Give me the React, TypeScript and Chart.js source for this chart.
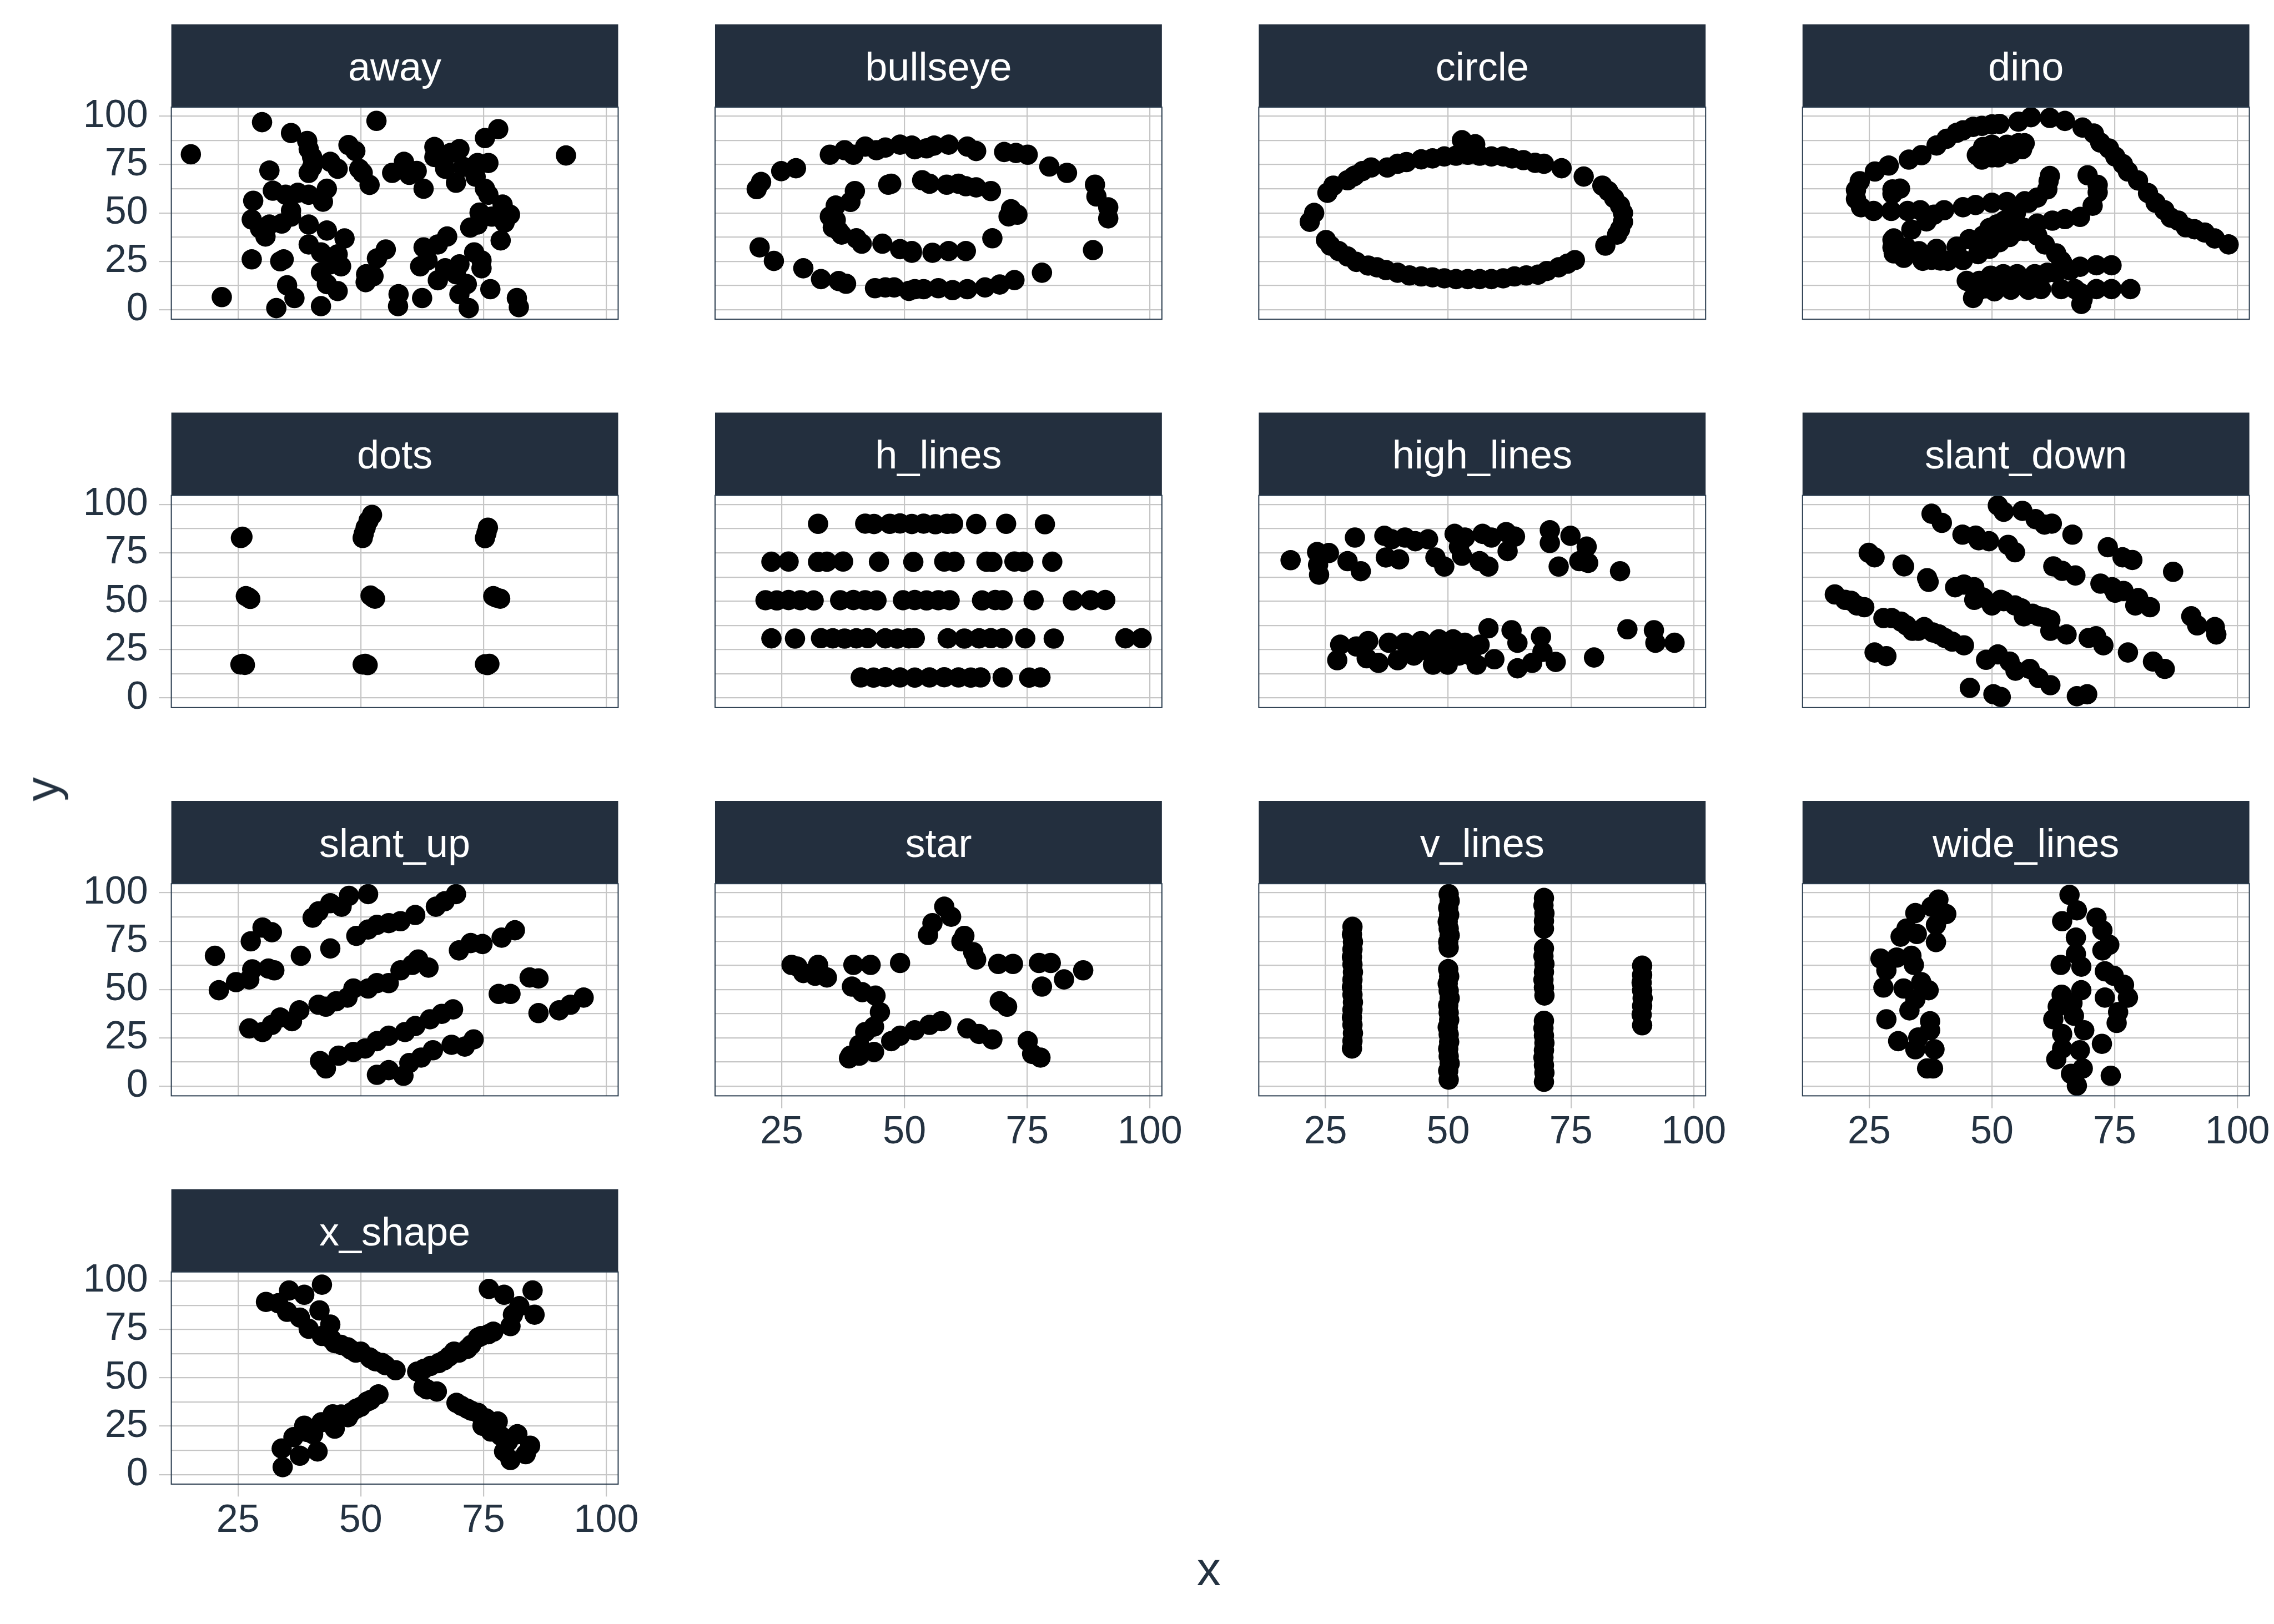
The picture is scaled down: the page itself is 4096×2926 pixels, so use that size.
import React, { useEffect, useRef } from 'react';
import { Chart, registerables } from 'chart.js';

Chart.register(...registerables);

// ---------------- data ----------------
const PANEL_NAMES = ['away', 'bullseye', 'circle', 'dino', 'dots', 'h_lines', 'high_lines', 'slant_down', 'slant_up', 'star', 'v_lines', 'wide_lines', 'x_shape'];
const X_TICKS = [25, 50, 75, 100];
const Y_GRID = [0, 12.5, 25, 37.5, 50, 62.5, 75, 87.5, 100];
const Y_LABELS = [0, 25, 50, 75, 100];
const X_LIMITS = [11.42, 102.43];
const Y_LIMITS = [-4.97, 104.68];
const X_TITLE = 'x';
const Y_TITLE = 'y';

const away = [[15.4,80.3],[29.9,96.9],[53.2,97.6],[91.8,79.7],[78.0,93.3],[75.3,88.7],[21.7,6.5],[35.8,91.3],[39.1,87.2],[39.4,83.0],[40.1,78.9],[47.5,85.1],[48.9,82.0],[43.8,76.4],[31.4,71.9],[40.1,73.8],[39.4,70.7],[45.3,72.8],[49.7,72.8],[50.4,70.7],[51.8,64.5],[32.1,61.5],[34.7,59.4],[37.2,60.4],[39.4,59.4],[43.1,62.5],[42.3,55.8],[28.1,56.3],[35.8,51.2],[27.8,46.6],[29.5,41.9],[30.6,37.8],[31.4,44.0],[33.9,44.5],[35.8,48.1],[39.4,44.0],[43.1,40.9],[39.4,33.7],[41.9,29.6],[46.7,36.8],[45.3,28.6],[43.8,23.4],[46.0,22.4],[41.9,19.3],[27.8,26.0],[33.6,25.0],[34.3,26.0],[35.0,12.6],[36.5,6.0],[32.8,0.8],[41.9,1.8],[43.1,13.2],[45.3,9.6],[51.0,14.2],[52.6,17.3],[53.3,26.5],[55.1,31.1],[56.4,70.7],[58.8,76.4],[59.9,69.7],[61.4,71.7],[62.8,62.5],[65.0,84.1],[65.0,78.9],[67.2,72.8],[68.3,81.0],[70.1,83.0],[69.4,65.6],[70.9,73.8],[73.8,75.8],[76.0,75.8],[73.4,68.7],[75.3,62.5],[76.0,59.4],[74.2,50.2],[76.7,48.1],[78.9,54.3],[80.4,49.1],[79.3,45.0],[72.3,42.4],[73.8,44.0],[78.5,35.8],[67.6,37.8],[62.8,32.2],[65.7,33.7],[62.1,22.4],[63.6,25.5],[65.7,15.2],[67.2,21.4],[69.4,18.3],[70.1,23.4],[73.1,29.6],[74.6,25.5],[74.6,21.4],[71.6,13.2],[70.1,8.0],[72.0,0.8],[76.4,10.6],[81.8,6.0],[82.2,1.3],[57.7,8.0],[57.6,1.8],[62.5,6.0],[51.1,18.3]];

const bullseye = [[34.8,80.1],[37.8,82.4],[39.6,80.1],[42.0,84.3],[44.3,82.4],[46.1,83.8],[49.1,85.3],[51.5,84.8],[52.1,82.9],[54.5,83.4],[56.0,84.8],[59.0,85.3],[62.8,84.3],[64.6,82.0],[70.3,81.5],[72.7,81.0],[75.1,80.1],[79.5,74.0],[83.1,70.7],[88.8,64.6],[89.1,58.5],[91.5,52.9],[91.5,47.2],[88.4,30.8],[78.0,19.1],[72.4,15.3],[69.4,13.0],[66.4,11.5],[62.8,10.6],[59.8,10.1],[56.9,11.1],[53.9,10.6],[50.9,9.7],[47.9,11.5],[44.0,11.1],[38.1,13.4],[36.6,14.8],[33.0,15.8],[29.4,21.4],[23.4,25.2],[20.5,32.2],[19.9,62.3],[20.8,66.0],[24.9,71.6],[27.9,73.1],[46.1,11.5],[52.1,10.6],[39.9,61.3],[36.0,53.8],[39.0,55.7],[34.8,48.2],[35.4,42.5],[36.6,40.7],[40.2,36.9],[41.3,34.1],[45.5,34.1],[49.1,31.3],[51.5,29.4],[55.7,29.4],[59.0,30.3],[62.5,30.3],[67.9,36.9],[71.2,48.2],[71.7,51.9],[73.0,49.1],[67.6,61.3],[64.6,63.2],[61.0,65.1],[58.6,64.6],[62.5,63.8],[55.1,65.1],[53.6,66.9],[47.3,65.1],[46.7,64.6],[36.0,46.3],[37.2,38.8],[51.5,30.3]];

const circle = [[31.0,69.3],[32.5,71.6],[34.3,73.5],[37.6,73.5],[39.7,75.4],[41.5,76.3],[44.5,77.7],[46.8,78.2],[49.2,79.2],[51.6,79.6],[54.0,80.1],[56.4,79.6],[58.8,79.2],[61.2,79.2],[63.0,78.2],[65.3,77.3],[67.7,75.9],[69.5,75.4],[73.1,73.1],[52.8,87.6],[55.5,85.5],[53.4,84.3],[77.6,68.8],[81.4,64.1],[82.6,61.3],[83.8,57.6],[85.0,53.8],[85.6,50.0],[85.6,45.4],[85.0,41.6],[84.4,38.8],[82.0,33.1],[75.8,25.6],[74.3,23.8],[72.5,21.9],[70.1,20.0],[68.3,18.1],[65.9,17.7],[63.5,17.2],[61.2,16.2],[58.8,15.8],[56.4,15.8],[54.0,15.8],[51.6,15.8],[49.2,16.2],[46.8,16.7],[44.5,17.2],[42.1,17.7],[39.7,19.1],[37.3,20.5],[35.5,21.9],[33.7,22.8],[31.3,24.7],[29.5,27.5],[27.7,30.3],[26.0,33.1],[25.1,36.0],[21.8,45.4],[22.7,50.0],[25.4,60.4],[26.6,64.1],[30.7,68.8],[29.5,66.9]];

const dino = [[55.3846,97.1795],[51.5385,96.0256],[46.1538,94.4872],[42.8205,91.4103],[40.7692,88.3333],[38.7179,84.8718],[35.641,79.8718],[33.0769,77.5641],[28.9744,74.4872],[26.1538,71.4103],[23.0769,66.4103],[22.3077,61.7949],[22.3077,57.1795],[23.3333,52.9487],[25.8974,51.0256],[29.4872,51.0256],[32.8205,51.0256],[35.3846,51.4103],[40.2564,51.4103],[44.1026,52.9487],[46.6667,54.1026],[50.0,55.2564],[53.0769,55.641],[56.6667,56.0256],[59.2308,57.9487],[61.2821,62.1795],[61.5385,66.4103],[61.7949,69.1026],[57.4359,55.2564],[54.8718,49.8718],[52.5641,46.0256],[48.2051,38.3333],[49.4872,42.1795],[51.0256,44.1026],[45.3846,36.4103],[42.8205,32.5641],[38.7179,31.4103],[35.1282,30.2564],[32.5641,32.1795],[30.0,36.7949],[33.5897,41.4103],[36.6667,45.641],[38.2051,49.1026],[29.7436,36.0256],[29.7436,32.1795],[30.0,29.1026],[32.0513,26.7949],[35.8974,25.2564],[41.0256,25.2564],[44.1026,25.641],[47.1795,28.718],[49.4872,31.4103],[51.5385,34.8718],[53.5897,37.5641],[55.1282,40.641],[56.6667,42.1795],[59.2308,44.4872],[62.3077,46.0256],[64.8718,46.7949],[67.9487,47.9487],[70.5128,53.718],[71.5385,60.641],[71.5385,64.4872],[69.4872,69.4872],[46.9231,79.8718],[48.2051,84.1026],[50.0,85.2564],[53.0769,85.2564],[55.3846,86.0256],[56.6667,86.0256],[56.1538,82.9487],[53.8462,80.641],[51.2821,78.718],[50.0,78.718],[47.9487,77.5641],[29.7436,59.8718],[29.7436,62.1795],[31.2821,62.5641],[57.9487,99.4872],[61.7949,99.1026],[64.8718,97.5641],[68.4615,94.1026],[70.7692,91.0256],[72.0513,86.4103],[73.8462,83.3333],[75.1282,79.1026],[76.6667,75.2564],[77.6923,71.4103],[79.7436,66.7949],[81.7949,60.2564],[83.3333,55.2564],[85.1282,51.4103],[86.4103,47.5641],[87.9487,46.0256],[89.4872,42.5641],[93.3333,39.8718],[95.3846,36.7949],[98.2051,33.718],[56.6667,40.641],[59.2308,38.3333],[60.7692,33.718],[63.0769,29.1026],[64.1026,25.2564],[64.359,24.1026],[74.359,22.9487],[71.2821,22.9487],[67.9487,22.1795],[65.8974,20.2564],[63.0769,19.1026],[61.2821,19.1026],[58.7179,18.3333],[55.1282,18.3333],[52.3077,18.3333],[49.7436,17.5641],[47.4359,14.8718],[44.8718,14.8718],[48.7179,14.8718],[51.2821,14.8718],[54.1026,14.8718],[56.1538,14.1026],[52.0513,12.5641],[48.7179,11.0256],[47.1795,9.8718],[46.1538,6.0256],[50.5128,9.4872],[53.8462,10.2564],[57.4359,10.2564],[60.0,10.641],[64.1026,10.641],[66.9231,10.641],[71.2821,10.641],[74.359,10.641],[78.2051,10.641],[67.9487,8.718],[68.4615,5.2564],[68.2051,2.9487],[37.6923,25.7692],[39.4872,25.3846],[91.2821,41.5385],[50.0,95.7692],[47.9487,95.0],[44.1026,92.6923]];

const dots = [[25.6,82.7],[25.9,83.3],[26.6,52.6],[27.1,52.0],[27.5,51.2],[25.5,17.3],[25.9,17.6],[26.4,17.1],[50.4,82.7],[50.6,84.8],[51.0,88.0],[51.6,91.7],[52.3,94.6],[52.0,52.9],[52.5,51.9],[52.9,51.3],[50.4,17.3],[50.9,17.6],[51.4,17.0],[75.3,82.6],[75.6,85.1],[75.9,88.0],[77.0,52.6],[77.6,51.9],[78.4,51.3],[75.3,17.4],[75.8,17.0],[76.2,17.6]];

const h_lines = [[32.4,90.0],[42.0,90.1],[43.8,89.9],[47.0,90.0],[49.1,90.2],[51.5,89.9],[53.9,90.1],[56.3,89.8],[58.7,90.0],[59.9,90.1],[64.6,89.9],[70.7,90.0],[78.6,89.8],[22.9,70.4],[26.4,70.5],[32.4,70.3],[34.2,70.4],[37.5,70.5],[44.8,70.4],[51.8,70.3],[58.1,70.5],[60.2,70.4],[66.7,70.4],[67.9,70.3],[72.4,70.5],[74.2,70.4],[80.1,70.4],[21.7,50.5],[24.0,50.4],[26.4,50.6],[28.8,50.5],[31.5,50.4],[36.9,50.5],[39.6,50.6],[42.0,50.5],[44.3,50.4],[49.7,50.5],[52.1,50.6],[54.5,50.4],[56.9,50.5],[59.2,50.5],[65.8,50.4],[68.5,50.6],[70.0,50.5],[76.3,50.5],[84.3,50.4],[87.9,50.5],[90.9,50.6],[22.9,30.8],[27.7,30.7],[33.0,30.9],[35.4,30.8],[37.8,30.7],[40.2,30.8],[42.5,30.9],[46.1,30.8],[48.5,30.7],[50.9,30.8],[52.1,30.9],[58.8,30.8],[62.2,30.7],[65.2,30.8],[67.6,30.9],[70.0,30.8],[74.6,30.8],[80.4,30.7],[95.0,30.8],[98.3,30.9],[41.1,10.6],[43.7,10.5],[46.1,10.7],[49.1,10.6],[52.1,10.5],[55.1,10.6],[58.1,10.7],[61.0,10.6],[63.5,10.5],[65.5,10.6],[70.0,10.6],[75.4,10.5],[77.7,10.6]];

const high_lines = [[17.9,71.2],[23.3,75.4],[25.7,74.9],[23.5,68.8],[23.7,63.7],[29.5,70.7],[31.0,82.9],[32.2,65.5],[37.0,83.8],[38.5,82.0],[37.3,72.6],[40.0,71.6],[41.2,82.9],[43.3,81.0],[45.9,82.0],[47.4,72.6],[49.2,67.9],[51.3,84.8],[52.2,78.2],[53.4,82.9],[52.8,73.5],[57.0,84.8],[56.4,70.7],[58.2,67.9],[58.8,82.9],[61.8,85.7],[63.6,83.4],[62.1,75.9],[70.7,86.7],[70.7,80.1],[72.5,67.9],[74.9,83.8],[78.2,78.2],[76.7,70.7],[78.5,69.8],[85.0,65.5],[27.4,19.5],[28.0,27.5],[31.3,26.6],[33.7,29.4],[33.4,20.5],[35.8,18.1],[37.9,28.5],[39.7,19.5],[41.2,28.5],[43.0,21.9],[44.5,29.4],[46.9,17.2],[48.1,30.3],[49.9,17.2],[51.0,30.3],[52.2,21.9],[53.4,28.5],[55.8,17.2],[56.4,27.5],[58.2,36.0],[59.4,20.0],[62.9,35.0],[64.1,28.5],[64.1,15.3],[67.1,18.1],[68.9,31.7],[69.2,23.8],[71.9,18.6],[79.7,20.9],[86.5,35.5],[91.9,35.0],[92.2,28.5],[96.1,28.5],[46.2,23.8],[48.6,23.8],[54.6,21.9]];

const slant_down = [[37.7,95.2],[39.8,90.5],[51.2,99.5],[52.4,96.2],[56.2,96.7],[58.9,92.4],[60.7,89.6],[62.2,90.1],[66.4,84.4],[44.0,84.4],[46.7,83.9],[47.3,81.5],[49.4,81.0],[53.3,79.1],[54.7,75.3],[73.6,77.9],[76.6,72.7],[78.6,71.3],[86.9,65.2],[24.9,75.0],[26.1,72.7],[31.8,68.9],[32.1,68.0],[36.8,61.9],[37.1,60.0],[42.5,57.2],[44.3,58.6],[46.4,57.2],[46.4,50.7],[48.2,51.9],[50.0,47.8],[51.8,50.7],[52.4,50.0],[54.7,47.8],[56.0,46.3],[56.5,42.2],[58.3,43.5],[59.5,42.2],[60.7,41.6],[61.9,40.3],[61.9,34.7],[65.2,32.8],[62.5,68.0],[64.3,65.7],[67.0,63.3],[72.1,59.1],[74.5,57.2],[75.1,54.4],[76.8,55.3],[79.8,51.6],[79.2,47.8],[82.2,46.9],[18.0,53.5],[20.1,50.7],[21.3,50.2],[22.5,47.8],[24.0,46.9],[27.9,41.3],[29.6,41.3],[31.5,39.4],[32.6,37.5],[33.8,34.7],[35.0,34.7],[36.2,36.6],[38.0,33.8],[39.2,32.8],[40.4,31.0],[41.9,29.1],[44.3,27.2],[26.1,23.5],[28.5,21.6],[48.8,19.7],[51.2,22.5],[53.6,18.8],[54.8,14.1],[57.7,15.0],[59.5,10.3],[61.9,6.6],[69.7,31.0],[71.2,31.9],[72.7,27.2],[77.7,23.5],[82.8,18.8],[85.2,15.0],[90.6,42.2],[91.8,37.5],[95.4,36.6],[95.7,32.8],[45.5,5.2],[50.3,1.9],[51.8,0.5],[67.3,0.9],[69.4,1.9]];

const slant_up = [[20.3,67.4],[21.1,49.6],[24.6,53.8],[27.3,55.2],[27.9,60.4],[31.2,60.8],[32.4,59.9],[27.6,74.9],[30.0,82.0],[31.9,79.6],[37.8,67.4],[43.8,71.2],[40.2,87.1],[41.4,90.4],[43.8,94.6],[46.1,92.8],[47.6,98.4],[51.5,99.3],[49.1,77.7],[51.5,81.0],[53.3,83.4],[55.7,84.3],[58.1,85.3],[61.1,88.5],[65.3,92.8],[67.1,95.6],[69.4,99.3],[70.0,70.2],[72.4,74.0],[74.8,73.5],[78.7,76.8],[81.4,80.6],[78.1,47.7],[80.5,47.7],[84.4,56.2],[86.2,55.7],[86.2,37.8],[90.4,39.2],[92.7,42.1],[95.4,45.8],[27.3,29.9],[30.0,28.0],[31.9,31.7],[33.6,35.5],[36.0,33.6],[37.5,39.2],[41.4,42.1],[42.9,41.1],[45.0,43.9],[47.3,45.8],[48.5,50.5],[51.5,50.5],[53.3,53.3],[55.7,53.3],[58.1,59.9],[60.5,62.7],[61.7,65.5],[63.8,61.3],[41.7,13.0],[42.9,9.2],[45.5,15.8],[48.5,17.7],[50.9,19.5],[53.3,23.3],[55.7,26.1],[59.0,28.0],[61.1,31.1],[64.1,34.6],[66.5,37.4],[68.8,39.7],[53.3,5.9],[55.7,8.3],[58.7,5.4],[59.9,12.0],[62.3,14.8],[64.7,18.6],[68.5,21.4],[71.2,20.5],[73.0,24.2]];

const star = [[27.0,62.7],[28.2,61.8],[29.4,58.5],[32.4,62.7],[31.8,57.1],[34.2,56.2],[39.6,62.7],[43.1,62.7],[49.1,63.7],[39.3,51.5],[41.4,48.6],[44.1,46.8],[45.0,38.3],[43.8,30.8],[42.0,28.0],[40.8,21.4],[39.0,15.8],[38.7,14.4],[40.8,15.8],[43.8,17.7],[47.3,23.3],[49.1,26.1],[52.1,28.9],[55.1,31.7],[57.5,33.6],[54.8,78.2],[55.7,84.3],[58.1,92.8],[59.5,87.6],[62.2,77.7],[61.6,74.9],[64.0,69.3],[64.6,65.5],[69.1,63.2],[72.1,63.2],[77.4,63.7],[79.8,63.7],[82.5,55.2],[86.4,59.9],[78.0,51.5],[69.4,43.9],[70.9,41.1],[62.8,29.9],[65.2,27.0],[67.9,24.2],[75.1,23.3],[76.0,16.7],[77.7,14.8]];

const v_lines = [[30.5,82.4],[30.4,78.5],[30.6,74.6],[30.5,70.7],[30.4,66.8],[30.5,62.9],[30.6,59.0],[30.5,55.1],[30.4,51.2],[30.5,47.3],[30.6,43.4],[30.5,39.5],[30.4,35.6],[30.5,31.7],[30.6,27.4],[30.5,23.4],[30.4,19.5],[50.1,99.3],[50.3,95.8],[50.0,92.2],[50.2,88.6],[49.9,85.0],[50.1,81.5],[50.3,78.0],[50.0,74.6],[50.1,71.6],[50.0,60.5],[50.2,56.8],[49.9,53.0],[50.1,49.3],[50.3,45.5],[50.0,41.8],[50.1,38.0],[50.2,34.3],[49.9,30.5],[50.1,26.8],[50.2,23.0],[50.0,19.3],[50.1,15.5],[50.3,11.8],[50.0,8.0],[50.1,3.4],[69.5,97.3],[69.4,93.5],[69.6,89.4],[69.5,85.5],[69.5,81.5],[69.5,71.2],[69.4,67.2],[69.6,63.2],[69.5,59.1],[69.4,55.0],[69.5,51.0],[69.6,46.9],[69.5,33.8],[69.4,30.0],[69.5,26.2],[69.6,22.4],[69.5,18.6],[69.4,14.8],[69.5,10.9],[69.6,7.0],[69.5,2.3],[89.5,62.3],[89.5,57.5],[89.4,53.5],[89.5,49.5],[89.6,45.5],[89.5,41.5],[89.4,37.0],[89.5,31.5]];

const wide_lines = [[39.1,96.5],[37.7,92.8],[40.7,89.0],[34.4,89.5],[38.6,83.4],[32.6,81.5],[31.4,77.3],[38.6,74.5],[34.7,78.7],[27.3,66.0],[30.6,66.5],[33.6,67.4],[28.5,59.9],[34.1,62.7],[27.9,51.0],[32.0,50.5],[35.6,53.8],[37.1,49.6],[34.4,44.9],[33.2,39.2],[28.5,34.6],[37.4,33.6],[37.4,28.9],[30.9,23.3],[34.4,19.1],[38.3,19.1],[36.8,9.2],[38.0,9.2],[35.0,25.2],[65.8,98.9],[67.3,90.9],[64.3,85.3],[71.3,87.1],[72.5,80.6],[67.1,76.8],[73.9,73.1],[67.1,68.4],[72.5,70.2],[64.0,62.7],[68.2,61.8],[73.0,59.4],[74.8,57.1],[76.9,52.4],[77.7,45.8],[73.0,45.8],[75.7,38.3],[75.4,32.7],[64.2,47.3],[68.2,49.6],[66.4,43.0],[63.4,41.1],[62.5,34.6],[66.7,36.4],[68.8,28.9],[72.4,21.9],[64.3,27.0],[63.1,13.9],[67.9,18.6],[68.5,9.2],[67.3,0.3],[74.2,5.4],[64.3,19.5],[66.1,6.4]];

const x_shape = [[30.7,89.2],[33.2,88.5],[35.4,95.1],[38.5,92.9],[42.1,98.1],[35.0,84.1],[37.6,81.1],[41.6,84.8],[39.4,75.3],[43.8,77.5],[42.1,71.6],[44.0,70.0],[44.7,67.9],[46.0,67.0],[47.4,65.7],[48.0,64.5],[49.0,63.0],[50.0,63.5],[51.8,60.5],[52.0,60.0],[53.0,58.5],[54.4,57.6],[55.0,56.5],[57.1,53.9],[34.1,3.8],[33.9,13.4],[36.3,19.3],[37.6,9.7],[38.5,25.2],[39.0,22.0],[41.2,11.9],[40.3,20.8],[42.0,27.0],[44.7,23.7],[44.3,31.1],[45.0,30.0],[46.0,31.0],[47.4,29.6],[48.0,32.0],[49.1,34.0],[50.0,35.0],[51.3,37.7],[52.0,38.5],[53.6,41.4],[61.5,53.2],[62.8,54.5],[64.2,56.1],[65.9,57.6],[67.0,59.0],[68.0,61.0],[69.0,63.5],[70.0,63.0],[71.7,64.9],[72.5,67.0],[73.9,70.8],[74.5,71.5],[76.0,72.5],[77.0,73.8],[80.5,76.7],[81.0,82.6],[82.3,87.0],[85.4,82.6],[76.1,95.9],[79.2,92.9],[85.0,95.1],[62.8,45.1],[63.5,44.0],[65.5,42.9],[69.5,37.0],[70.5,35.5],[71.7,34.0],[72.5,33.0],[73.9,31.8],[75.5,29.0],[74.8,25.2],[76.5,22.2],[77.0,25.0],[77.9,27.4],[78.5,20.0],[80.0,17.0],[79.2,11.9],[80.5,7.5],[81.9,20.8],[83.6,10.5],[84.5,14.9]];

const PANEL_DATA: Record<string, number[][]> = {
  away, bullseye, circle, dino, dots, h_lines, high_lines, slant_down, slant_up, star, v_lines, wide_lines, x_shape,
};

// ---------------- styling / layout (reference px, scaled by S) ----------------
const S = 0.975;
const FONT = '"Liberation Sans", Arial, Helvetica, sans-serif';
const TEXT_COLOR = '#243241';
const STRIP_FILL = '#232f3e';
const BORDER_COLOR = '#2c3e50';
const GRID_COLOR = '#c6c6c6';
const COL_LEFT = [316.5, 1321, 2325.5, 3330];
const STRIP_TOP = [45, 762.5, 1480, 2197.5];
const PANEL_W = 825.5;
const STRIP_H = 153;
const PLOT_H = 392;
const TICK_FONT = 70;
const STRIP_FONT = 72;
const TITLE_FONT = 86;
const POINT_R = 18.3;

type PanelDef = { name: string; row: number; col: number; showX: boolean; showY: boolean };

function Panel({ p }: { p: PanelDef }) {
  const ref = useRef<HTMLCanvasElement | null>(null);
  const plotLeft = COL_LEFT[p.col] * S;
  const stripTop = STRIP_TOP[p.row] * S;
  const plotTop = (STRIP_TOP[p.row] + STRIP_H) * S;
  const cLeft = Math.floor(plotLeft - 316 * S);
  const cTop = Math.floor(stripTop);
  const axisW = plotLeft - cLeft;
  const padTop = plotTop - cTop;
  const pw = PANEL_W * S;
  const ph = PLOT_H * S;
  const cW = Math.ceil(axisW + pw + 80 * S);
  const cH = Math.ceil(padTop + ph + 170 * S);
  const padRight = cW - axisW - pw;
  const axisH = cH - padTop - ph;
  const stripH = STRIP_H * S;

  useEffect(() => {
    const canvas = ref.current;
    if (!canvas) return;
    const pts = PANEL_DATA[p.name].map(([x, y]) => ({ x, y }));
    const deco = {
      id: 'deco',
      beforeDraw(chart: any) {
        const { ctx, chartArea } = chart;
        ctx.save();
        ctx.fillStyle = STRIP_FILL;
        ctx.fillRect(chartArea.left, chartArea.top - stripH, chartArea.right - chartArea.left, stripH);
        ctx.fillStyle = '#ffffff';
        ctx.font = `${STRIP_FONT}px ${FONT}`;
        ctx.textAlign = 'center';
        ctx.textBaseline = 'alphabetic';
        ctx.fillText(p.name, (chartArea.left + chartArea.right) / 2, chartArea.top - stripH + 103.6 * S);
        ctx.restore();
      },
      afterDraw(chart: any) {
        const { ctx, chartArea } = chart;
        ctx.save();
        ctx.strokeStyle = BORDER_COLOR;
        ctx.lineWidth = 2;
        ctx.strokeRect(chartArea.left, chartArea.top, chartArea.right - chartArea.left, chartArea.bottom - chartArea.top);
        ctx.restore();
      },
    };
    const chart = new Chart(canvas, {
      type: 'scatter',
      data: {
        datasets: [
          {
            data: pts,
            pointRadius: POINT_R,
            pointHoverRadius: POINT_R,
            pointBackgroundColor: '#000000',
            pointBorderColor: '#000000',
            pointBorderWidth: 0,
            showLine: false,
            clip: 0,
          } as any,
        ],
      },
      options: {
        animation: false,
        responsive: false,
        maintainAspectRatio: false,
        devicePixelRatio: 1,
        events: [],
        layout: { padding: { left: 0, top: padTop, right: padRight, bottom: 0 } },
        plugins: { legend: { display: false }, tooltip: { enabled: false }, title: { display: false } },
        scales: {
          x: {
            type: 'linear',
            min: X_LIMITS[0],
            max: X_LIMITS[1],
            afterBuildTicks: (s: any) => {
              s.ticks = X_TICKS.map((v) => ({ value: v }));
            },
            afterFit: (s: any) => {
              s.height = axisH;
            },
            border: { display: false },
            grid: {
              color: GRID_COLOR,
              lineWidth: 2.2,
              drawTicks: p.showX,
              tickLength: 23 * S,
              tickColor: GRID_COLOR,
              tickWidth: 2.2,
            },
            ticks: {
              display: p.showX,
              autoSkip: false,
              maxRotation: 0,
              padding: 2.4,
              color: TEXT_COLOR,
              font: { family: FONT, size: TICK_FONT },
              callback: (v: any) => String(v),
            },
          },
          y: {
            type: 'linear',
            min: Y_LIMITS[0],
            max: Y_LIMITS[1],
            afterBuildTicks: (s: any) => {
              s.ticks = Y_GRID.map((v) => ({ value: v }));
            },
            afterFit: (s: any) => {
              s.width = axisW;
            },
            border: { display: false },
            grid: {
              color: GRID_COLOR,
              lineWidth: 2.2,
              drawTicks: p.showY,
              tickLength: 23 * S,
              tickColor: (ctx: any) => (ctx.tick && Y_LABELS.includes(ctx.tick.value) ? GRID_COLOR : 'rgba(0,0,0,0)'),
              tickWidth: 2.2,
            },
            ticks: {
              display: p.showY,
              autoSkip: false,
              padding: 19.5,
              color: TEXT_COLOR,
              font: { family: FONT, size: TICK_FONT },
              callback: (v: any) => (Y_LABELS.includes(Number(v)) ? String(v) : ''),
            },
          },
        },
      } as any,
      plugins: [deco as any],
    });
    return () => chart.destroy();
  }, []);

  return (
    <canvas
      ref={ref}
      width={cW}
      height={cH}
      style={{ position: 'absolute', left: cLeft, top: cTop, width: cW, height: cH }}
    />
  );
}

export default function App() {
  const panels: PanelDef[] = PANEL_NAMES.map((name, i) => {
    const row = Math.floor(i / 4);
    const col = i % 4;
    const showX = row === 3 || (row === 2 && col > 0);
    return { name, row, col, showX, showY: col === 0 };
  });
  return (
    <div
      style={{
        position: 'absolute',
        left: 0,
        top: 0,
        width: 4096,
        height: 2926,
        background: '#ffffff',
        overflow: 'hidden',
      }}
    >
      {panels.map((p) => (
        <Panel key={p.name} p={p} />
      ))}
      <div
        style={{
          position: 'absolute',
          left: 2233 * S,
          top: 2906 * S - 0.587 * TITLE_FONT,
          transform: 'translateX(-50%)',
          fontFamily: FONT,
          fontSize: TITLE_FONT,
          lineHeight: 1,
          color: TEXT_COLOR,
          whiteSpace: 'nowrap',
        }}
      >
        {X_TITLE}
      </div>
      <div
        style={{
          position: 'absolute',
          left: 94 * S - 0.19 * TITLE_FONT,
          top: 1458 * S,
          transform: 'translate(-50%, -50%) rotate(-90deg)',
          fontFamily: FONT,
          fontSize: TITLE_FONT,
          lineHeight: 1,
          color: TEXT_COLOR,
          whiteSpace: 'nowrap',
        }}
      >
        {Y_TITLE}
      </div>
    </div>
  );
}
